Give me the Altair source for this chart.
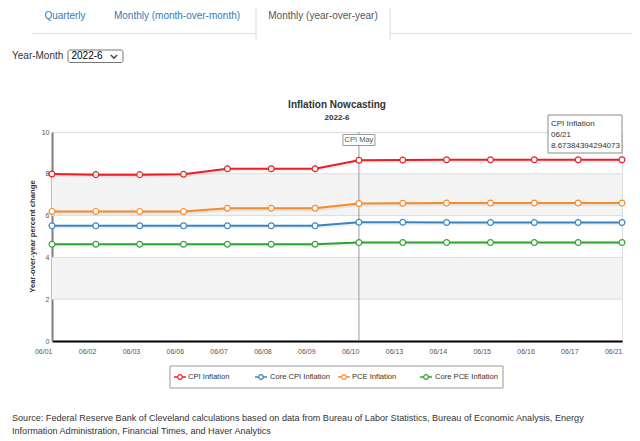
import altair as alt
import pandas as pd

FONT = "Liberation Sans"

# ---------------- data ----------------
dates = ["06/01", "06/02", "06/03", "06/06", "06/07", "06/08", "06/09",
         "06/10", "06/13", "06/14", "06/15", "06/16", "06/17", "06/21"]
cpi = [7.99, 7.96, 7.96, 7.98, 8.24, 8.24, 8.24, 8.65, 8.66, 8.67, 8.67, 8.67, 8.67, 8.67384394294073]
core_cpi = [5.51, 5.51, 5.51, 5.51, 5.51, 5.51, 5.51, 5.68, 5.68, 5.67, 5.67, 5.67, 5.67, 5.67]
pce = [6.20, 6.20, 6.20, 6.20, 6.35, 6.35, 6.35, 6.58, 6.59, 6.60, 6.60, 6.60, 6.60, 6.60]
core_pce = [4.63, 4.63, 4.63, 4.63, 4.63, 4.63, 4.63, 4.71, 4.71, 4.71, 4.71, 4.71, 4.71, 4.71]
series_names = ["CPI Inflation", "Core CPI Inflation", "PCE Inflation", "Core PCE Inflation"]
series_values = [cpi, core_cpi, pce, core_pce]
colors = ["#ee1c24", "#3a84c6", "#f78b2a", "#2fa52c"]
y_ticks = [0, 2, 4, 6, 8, 10]
grid_values = [2, 4, 6, 8]
band_lo = [2, 6]
band_hi = [4, 8]
plotline_date = ["06/10"]
plotline_label = ["CPI May"]
tabs = ["Quarterly", "Monthly (month-over-month)", "Monthly (year-over-year)"]
selected_month = "2022-6"
title_text = "Inflation Nowcasting"
y_title = "Year-over-year percent change"
source_lines = [
    "Source: Federal Reserve Bank of Cleveland calculations based on data from Bureau of Labor Statistics, Bureau of Economic Analysis, Energy",
    "Information Administration, Financial Times, and Haver Analytics",
]

# ---------------- layout ----------------
W, H = 570, 209
PAD_L, PAD_T = 44, 124
TOTAL_W, TOTAL_H = 624, 433
OX, OY = 8 + PAD_L, 8 + PAD_T  # page position of plot origin


def px(x):
    return x - OX


def py(y):
    return y - OY


def one(text):
    return pd.DataFrame({"t": [text]})


def label(text, x, y, size=10, color="#333333", weight="normal", align="left", angle=None):
    kw = dict(align=align, baseline="middle", fontSize=size, color=color,
              fontWeight=weight, font=FONT)
    if angle is not None:
        kw["angle"] = angle
    return alt.Chart(one(text)).mark_text(**kw).encode(
        x=alt.value(px(x)), y=alt.value(py(y)), text="t:N")


def box(x1, y1, x2, y2, stroke="#dddddd", fill="white", sw=1, **kw):
    return alt.Chart(one("")).mark_rect(stroke=stroke, fill=fill, strokeWidth=sw, **kw).encode(
        x=alt.value(px(x1)), x2=alt.value(px(x2)), y=alt.value(py(y1)), y2=alt.value(py(y2)))


def hline(x1, x2, y, color="#dddddd", sw=1):
    return alt.Chart(one("")).mark_rule(color=color, strokeWidth=sw).encode(
        x=alt.value(px(x1)), x2=alt.value(px(x2)), y=alt.value(py(y)))


rows = []
for name, vals in zip(series_names, series_values):
    for d, v in zip(dates, vals):
        rows.append({"date": d, "value": v, "series": name})
df = pd.DataFrame(rows)

x_enc = alt.X("date:N", sort=dates, scale=alt.Scale(type="point", padding=0),
              axis=alt.Axis(title=None, labelAngle=0, labelFontSize=7, labelColor="#555555",
                            labelFont=FONT, ticks=False, labelPadding=10, domainColor="#000000",
                            domainWidth=2, grid=False))
y_enc = alt.Y("value:Q", scale=alt.Scale(domain=[0, 10], nice=False, zero=True),
              axis=alt.Axis(title=None, values=y_ticks, labelFontSize=7, labelColor="#555555",
                            labelFont=FONT, ticks=False, labelPadding=3, domainColor="#7f7f7f",
                            domainWidth=2, grid=False))
color_scale = alt.Scale(domain=series_names, range=colors)

bands = alt.Chart(pd.DataFrame({"lo": band_lo, "hi": band_hi})).mark_rect(
    color="#f4f4f4").encode(y=alt.Y("lo:Q", scale=alt.Scale(domain=[0, 10], nice=False)), y2="hi:Q")
grid = alt.Chart(pd.DataFrame({"v": grid_values})).mark_rule(color="#dcdcdc", strokeWidth=1).encode(
    y="v:Q")
vline = alt.Chart(pd.DataFrame({"date": plotline_date, "lab": plotline_label})).mark_rule(
    color="#999999", strokeWidth=1).encode(x=alt.X("date:N", sort=dates))

shadow = alt.Chart(df).mark_line(strokeWidth=4, color="#000000", opacity=0.06, xOffset=1, yOffset=1).encode(
    x=x_enc, y=y_enc, detail="series:N")
lines = alt.Chart(df).mark_line(strokeWidth=2).encode(
    x=x_enc, y=y_enc, color=alt.Color("series:N", scale=color_scale, legend=None))
points = alt.Chart(df).mark_point(shape="circle", fill="white", fillOpacity=1, size=34,
                                  strokeWidth=1.2, opacity=1).encode(
    x=x_enc, y=y_enc, color=alt.Color("series:N", scale=color_scale, legend=None))

pl_df = pd.DataFrame({"date": plotline_date, "lab": plotline_label})
pl_box = alt.Chart(pl_df).mark_rect(fill="white", stroke="#999999", strokeWidth=1,
                                    xOffset=-16, x2Offset=16).encode(
    x=alt.X("date:N", sort=dates), x2="date:N", y=alt.value(2.5), y2=alt.value(13.5))
pl_text = alt.Chart(pl_df).mark_text(fontSize=7.5, color="#555555", font=FONT, baseline="middle").encode(
    x=alt.X("date:N", sort=dates), y=alt.value(8), text="lab:N")

layers = [bands, grid, vline, shadow, lines, points, pl_box, pl_text]

# tooltip box
layers.append(box(548, 115, 622, 153, stroke="#8c8c8c", fill="#ffffff"))
layers.append(label(series_names[0], 551, 124, size=8, color="#333333"))
layers.append(label(dates[-1], 551, 134.5, size=8, color="#333333"))
layers.append(label(str(cpi[-1]), 551, 146, size=8, color="#333333"))

# titles
layers.append(label(title_text, OX + W / 2, 105, size=10, weight="bold", align="center", color="#333333"))
layers.append(label(selected_month, OX + W / 2, 118, size=8, weight="bold", align="center", color="#333333"))
layers.append(label(y_title, 33, OY + H / 2, size=7.7, weight="bold", align="center", angle=270, color="#333333"))

# legend
layers.append(box(170, 366, 503, 388, stroke="#999999", fill="white"))
sym_x = [180, 261, 344, 426]
txt_x = [188, 270, 352, 435]
LY = 377
for name, col, sx, tx in zip(series_names, colors, sym_x, txt_x):
    layers.append(hline(sx - 6, sx + 6, LY, color=col, sw=1.5))
    layers.append(alt.Chart(one(name)).mark_point(shape="circle", fill="white", fillOpacity=1,
                                                  size=22, strokeWidth=1.2, color=col).encode(
        x=alt.value(px(sx)), y=alt.value(py(LY))))
    layers.append(label(name, tx, LY, size=7.6, color="#333333"))

# header tabs
layers.append(hline(32, 256, 33.5))
layers.append(hline(390, 632, 33.5))
layers.append(box(256, 2, 390, 40, stroke="#dddddd", fill="white",
                  cornerRadiusTopLeft=4, cornerRadiusTopRight=4))
layers.append(box(257, 34, 389, 44, stroke="white", fill="white", sw=0))
layers.append(label(tabs[0], 65, 16, size=10, color="#337ab7", align="center"))
layers.append(label(tabs[1], 177, 16, size=10, color="#337ab7", align="center"))
layers.append(label(tabs[2], 323, 16, size=10, color="#555555", align="center"))

# selector
layers.append(label("Year-Month", 12, 56, size=10, color="#333333"))
layers.append(box(68, 50, 123, 62.5, stroke="#767676", fill="white", cornerRadius=2))
layers.append(label(selected_month, 71.5, 56.3, size=10, color="#000000"))
layers.append(alt.Chart(one("v")).mark_point(shape="M-1,-0.5L0,0.5L1,-0.5", filled=False,
                                             size=40, strokeWidth=1.5, color="#000000").encode(
    x=alt.value(px(114)), y=alt.value(py(56.5))))

# source
layers.append(label(source_lines[0], 12, 418, size=9.1, color="#333333"))
layers.append(label(source_lines[1], 12, 431, size=9.1, color="#333333"))

chart = alt.layer(*layers).resolve_scale(color="shared").properties(
    width=W, height=H,
    autosize=alt.AutoSizeParams(type="none"),
    padding={"left": PAD_L, "top": PAD_T, "right": TOTAL_W - PAD_L - W, "bottom": TOTAL_H - PAD_T - H},
).configure_view(stroke="#222222", strokeWidth=1.5).configure(font=FONT)

chart.save("out.html", embed_options={"renderer": "svg", "actions": False})
